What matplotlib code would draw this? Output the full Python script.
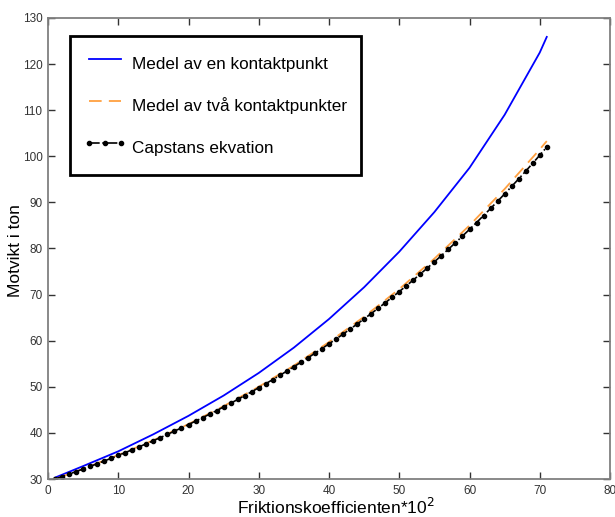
import matplotlib
matplotlib.use("Agg")
import matplotlib.pyplot as plt

# Friktionskoefficient * 10^2
x_capstan = list(range(1, 72))
y_capstan = [30.00, 30.53, 31.07, 31.61, 32.17, 32.74, 33.31, 33.90, 34.50, 35.11,
             35.73, 36.36, 37.00, 37.65, 38.31, 38.99, 39.68, 40.38, 41.09, 41.81,
             42.55, 43.30, 44.06, 44.84, 45.63, 46.43, 47.25, 48.09, 48.93, 49.80,
             50.68, 51.57, 52.48, 53.41, 54.35, 55.31, 56.28, 57.28, 58.29, 59.32,
             60.36, 61.43, 62.51, 63.61, 64.74, 65.88, 67.04, 68.22, 69.43, 70.65,
             71.90, 73.17, 74.46, 75.77, 77.11, 78.47, 79.85, 81.26, 82.69, 84.15,
             85.63, 87.14, 88.68, 90.24, 91.84, 93.46, 95.10, 96.78, 98.49, 100.23,
             102.00]

x_model = [1, 5, 10, 15, 20, 25, 30, 35, 40, 45, 50, 55, 60, 65, 70, 71]
y_en = [30.3, 32.8, 36.0, 39.7, 43.7, 48.1, 53.0, 58.5, 64.7, 71.6, 79.3, 87.9,
        97.5, 109.0, 122.5, 125.9]
y_tva = [30.0, 32.2, 35.2, 38.4, 41.9, 45.8, 50.0, 54.6, 59.7, 65.2, 71.2, 77.8,
         85.0, 92.9, 101.5, 103.3]

labels = ["Medel av en kontaktpunkt", "Medel av två kontaktpunkter", "Capstans ekvation"]

plt.rcParams['font.family'] = ['Liberation Sans', 'DejaVu Sans']

fig = plt.figure(figsize=(6.15, 5.17), dpi=100)
ax = fig.add_axes([48 / 615, 1 - 479 / 517, 562 / 615, 461 / 517])

ax.plot(x_model, y_en, color="#0000ff", lw=1.3, label=labels[0])
ax.plot(x_model, y_tva, color="#ffa040", lw=1.3, ls=(0, (7, 4)), label=labels[1])
ax.plot(x_capstan, y_capstan, color="black", lw=1.2, ls="-.", marker="o",
        markersize=3, label=labels[2])

ax.set_xlim(0, 80)
ax.set_ylim(30, 130)
ax.set_xticks(range(0, 81, 10))
ax.set_yticks(range(30, 131, 10))

for s in ax.spines.values():
    s.set_color("#808080")
    s.set_linewidth(1.3)
ax.tick_params(direction="in", length=5, width=1, color="#333333",
               top=True, right=True, labelsize=8.5, labelcolor="#333333", pad=4)

ax.set_ylabel("Motvikt i ton", fontsize=12.5)
ax.yaxis.set_label_coords(-0.045, 0.495)
ax.set_xlabel("Friktionskoefficienten*10$^2$", fontsize=12.5)
ax.xaxis.set_label_coords(0.512, -0.038)

leg = ax.legend(loc="upper left", bbox_to_anchor=(22 / 562, 443 / 461),
                fontsize=12.3, fancybox=False, framealpha=1, edgecolor="black",
                borderpad=0.8, labelspacing=0.88, handleheight=2.06,
                handlelength=2.5, handletextpad=0.35, numpoints=3,
                borderaxespad=0)
leg.get_frame().set_linewidth(2)

fig.savefig("out.png", dpi=100)
